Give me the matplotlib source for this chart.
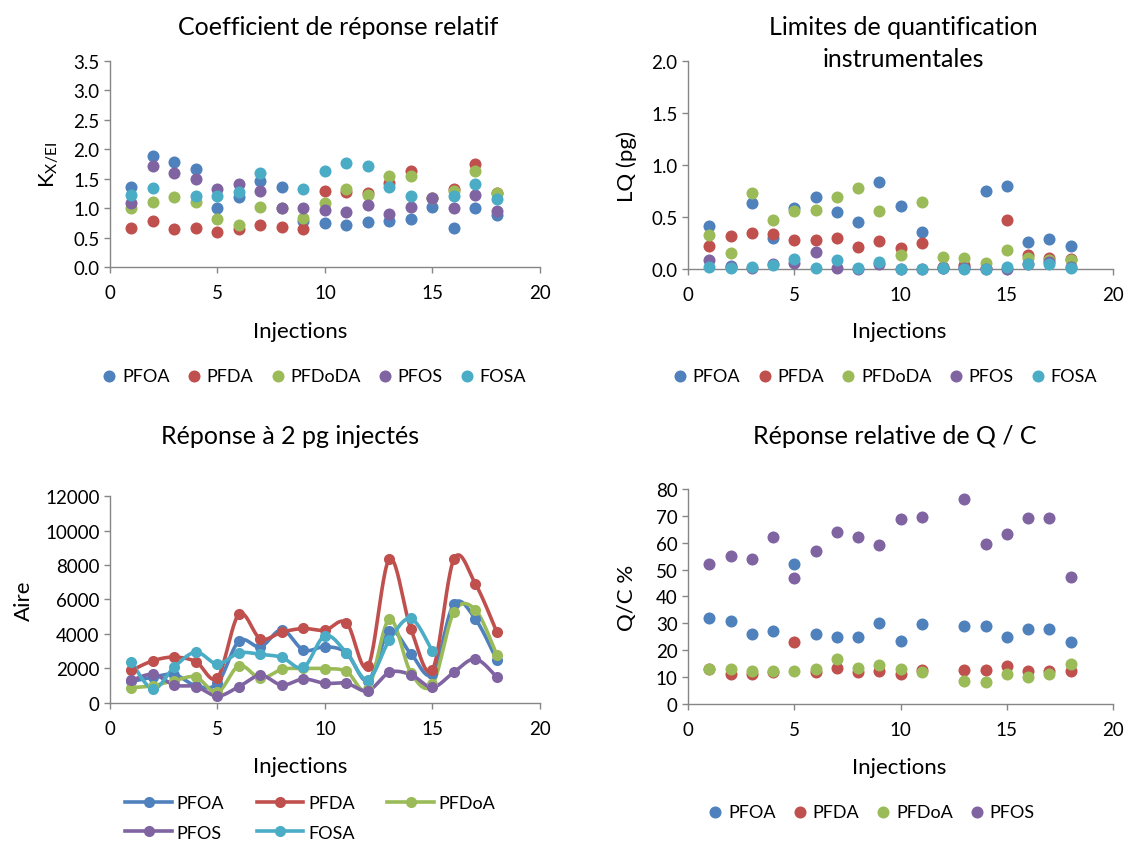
import numpy as np
import matplotlib
matplotlib.use("Agg")
import matplotlib.pyplot as plt
from matplotlib.lines import Line2D

plt.rcParams['font.family'] = ['Lato', 'DejaVu Sans']
plt.rcParams['mathtext.fontset'] = 'custom'
plt.rcParams['mathtext.rm'] = 'Lato'
plt.rcParams['mathtext.it'] = 'Lato'

nan = np.nan
injections = np.arange(1, 19)

# --- Coefficient de réponse relatif ---
k_pfoa = [1.36, 1.89, 1.79, 1.67, 1.01, 1.19, 1.47, 1.36, 0.78, 0.75, 0.72, 0.76, 0.78, 0.82, 1.02, 0.66, 1.00, 0.89]
k_pfda = [0.66, 0.79, 0.64, 0.67, 0.60, 0.64, 0.71, 0.68, 0.65, 1.30, 1.27, 1.26, 1.43, 1.64, 1.17, 1.32, 1.75, 1.26]
k_pfdoda = [1.01, 1.11, 1.19, 1.11, 0.82, 0.72, 1.02, 1.00, 0.83, 1.09, 1.32, 1.22, 1.54, 1.54, 1.17, 1.30, 1.64, 1.26]
k_pfos = [1.08, 1.71, 1.60, 1.50, 1.32, 1.41, 1.30, 1.01, 1.00, 0.97, 0.94, 1.05, 0.90, 1.02, 1.18, 1.00, 1.22, 0.95]
k_fosa = [1.22, 1.34, nan, 1.21, 1.21, 1.27, 1.60, nan, 1.32, 1.64, 1.76, 1.71, 1.36, 1.21, nan, 1.21, 1.41, 1.15]

# --- Limites de quantification instrumentales ---
lq_pfoa = [0.41, 0.03, 0.63, 0.30, 0.59, 0.69, 0.55, 0.45, 0.84, 0.61, 0.36, 0.01, 0.02, 0.75, 0.80, 0.26, 0.29, 0.22]
lq_pfda = [0.22, 0.32, 0.35, 0.34, 0.28, 0.28, 0.30, 0.21, 0.27, 0.20, 0.25, 0.02, 0.04, 0.01, 0.47, 0.13, 0.11, 0.10]
lq_pfdoda = [0.33, 0.15, 0.73, 0.47, 0.56, 0.57, 0.69, 0.78, 0.56, 0.13, 0.64, 0.12, 0.11, 0.06, 0.18, 0.11, 0.09, 0.09]
lq_pfos = [0.09, 0.02, 0.01, 0.05, 0.06, 0.16, 0.01, 0.00, 0.05, 0.00, 0.00, 0.01, 0.01, 0.00, 0.00, 0.05, 0.07, 0.02]
lq_fosa = [0.02, 0.01, 0.02, 0.04, 0.10, 0.01, 0.09, 0.01, 0.07, 0.00, 0.00, 0.01, 0.00, 0.00, 0.02, 0.05, 0.05, 0.01]

# --- Réponse à 2 pg injectés (aire) ---
a_pfoa = [1250, 1500, 1650, 1000, 1140, 3590, 3260, 4240, 3070, 3260, 2910, 1300, 4170, 2850, 1700, 5750, 4860, 2470]
a_pfda = [1890, 2450, 2660, 2390, 1470, 5150, 3720, 4110, 4320, 4220, 4650, 2120, 8350, 4280, 1930, 8350, 6900, 4090]
a_pfdoa = [890, 1000, 1300, 1500, 620, 2160, 1430, 1950, 2000, 1990, 1830, 810, 4860, 1740, 1080, 5280, 5400, 2760]
a_pfos = [1310, 1660, 1040, 950, 400, 950, 1600, 1040, 1390, 1140, 1140, 710, 1770, 1640, 910, 1790, 2550, 1490]
a_fosa = [2370, 810, 2100, 2950, 2260, 2900, 2820, 2640, 2060, 3900, 2910, 1350, 3650, 4900, 2990, nan, nan, nan]

# --- Réponse relative de Q / C ---
qc_pfoa = [32, 31, 26, 27, 52, 26, 25, 25, 30, 23.4, 29.7, nan, 29, 29, 25, 28, 28, 23]
qc_pfda = [13, 11, 11, 12, 23, 12, 13.3, 12, 12.2, 11, 12.7, nan, 12.5, 12.8, 14.3, 12.2, 12.3, 12.2]
qc_pfdoa = [13, 13, 12.2, 12.2, 12.1, 13.2, 16.6, 13.5, 14.4, 12.9, 11.8, nan, 8.7, 8.2, 11, 10, 11, 14.8]
qc_pfos = [52, 55.2, 54, 62.2, 47, 57.1, 64.1, 62.2, 59.1, 68.8, 69.6, nan, 76.1, 59.5, 63.1, 69.2, 69.2, 47.1]

BLUE, RED, GREEN, PURPLE, CYAN = '#4F81BD', '#C0504D', '#9BBB59', '#8064A2', '#4BACC6'
AXIS_GREY = '#868686'

TITLE_FS = 18
LABEL_FS = 16
TICK_FS = 13.5
LEG_FS = 13


def style_axes(ax, ymax, ystep):
    for side in ('top', 'right'):
        ax.spines[side].set_visible(False)
    for side in ('left', 'bottom'):
        ax.spines[side].set_color(AXIS_GREY)
        ax.spines[side].set_linewidth(1.0)
    ax.set_xlim(0, 20)
    ax.set_ylim(0, ymax)
    ax.set_xticks(range(0, 21, 5))
    ax.set_yticks(np.arange(0, ymax + ystep / 2, ystep))
    ax.tick_params(axis='both', colors=AXIS_GREY, labelcolor='black', labelsize=TICK_FS,
                   length=4, width=1.0, direction='out')
    ax.tick_params(axis='x', pad=8)


def smooth(x, y, n=24):
    # Catmull-Rom curve through the points, like Excel's smoothed line
    x = np.asarray(x, float)
    y = np.asarray(y, float)
    xs, ys = [], []
    m = len(x)
    for i in range(m - 1):
        i0, i3 = max(i - 1, 0), min(i + 2, m - 1)
        t = np.linspace(0, 1, n, endpoint=(i == m - 2))
        for p, out in ((x, xs), (y, ys)):
            p0, p1, p2, p3 = p[i0], p[i], p[i + 1], p[i3]
            out.append(0.5 * ((2 * p1) + (-p0 + p2) * t + (2 * p0 - 5 * p1 + 4 * p2 - p3) * t ** 2
                              + (-p0 + 3 * p1 - 3 * p2 + p3) * t ** 3))
    return np.concatenate(xs), np.concatenate(ys)


fig = plt.figure(figsize=(11.28, 8.45), dpi=100)

ax1 = fig.add_axes([0.0975, 0.6828, 0.3812, 0.2438])
ax2 = fig.add_axes([0.610, 0.6805, 0.3767, 0.2461])
ax3 = fig.add_axes([0.0975, 0.1669, 0.3812, 0.2449])
ax4 = fig.add_axes([0.610, 0.1657, 0.3767, 0.2544])

MS = 75
scatter_leg = dict(loc='center', frameon=False, fontsize=LEG_FS, handlelength=0.7,
                   handletextpad=0.35, columnspacing=1.0, scatterpoints=1)

# Panel 1
series1 = [('PFOA', k_pfoa, BLUE), ('PFDA', k_pfda, RED), ('PFDoDA', k_pfdoda, GREEN),
           ('PFOS', k_pfos, PURPLE), ('FOSA', k_fosa, CYAN)]
for name, vals, col in series1:
    ax1.scatter(injections, vals, s=MS, color=col, label=name, linewidths=0, zorder=3, clip_on=False)
style_axes(ax1, 3.5, 0.5)
ax1.yaxis.set_major_formatter(matplotlib.ticker.FormatStrFormatter('%.1f'))
ax1.set_ylabel(r'K$_{\mathrm{X/EI}}$', fontsize=LABEL_FS)
ax1.yaxis.set_label_coords(-0.115, 0.5)
fig.text(0.300, 0.967, 'Coefficient de réponse relatif', ha='center', va='center', fontsize=TITLE_FS)
fig.text(0.266, 0.607, 'Injections', ha='center', va='center', fontsize=LABEL_FS)
fig.legend(handles=ax1.collections, labels=[s[0] for s in series1],
           bbox_to_anchor=(0.279, 0.554), ncol=5, **scatter_leg)

# Panel 2
series2 = [('PFOA', lq_pfoa, BLUE), ('PFDA', lq_pfda, RED), ('PFDoDA', lq_pfdoda, GREEN),
           ('PFOS', lq_pfos, PURPLE), ('FOSA', lq_fosa, CYAN)]
for name, vals, col in series2:
    ax2.scatter(injections, vals, s=MS, color=col, label=name, linewidths=0, zorder=3, clip_on=False)
style_axes(ax2, 2.0, 0.5)
ax2.yaxis.set_major_formatter(matplotlib.ticker.FormatStrFormatter('%.1f'))
ax2.set_ylabel('LQ (pg)', fontsize=LABEL_FS)
ax2.yaxis.set_label_coords(-0.12, 0.5)
fig.text(0.801, 0.967, 'Limites de quantification', ha='center', va='center', fontsize=TITLE_FS)
fig.text(0.801, 0.929, 'instrumentales', ha='center', va='center', fontsize=TITLE_FS)
fig.text(0.797, 0.607, 'Injections', ha='center', va='center', fontsize=LABEL_FS)
fig.legend(handles=ax2.collections, labels=[s[0] for s in series2],
           bbox_to_anchor=(0.785, 0.554), ncol=5, **scatter_leg)

# Panel 3
series3 = [('PFOA', a_pfoa, BLUE), ('PFDA', a_pfda, RED), ('PFDoA', a_pfdoa, GREEN),
           ('PFOS', a_pfos, PURPLE), ('FOSA', a_fosa, CYAN)]
handles3 = []
for name, vals, col in series3:
    vals = np.asarray(vals, float)
    ok = ~np.isnan(vals)
    sx, sy = smooth(injections[ok], vals[ok])
    ax3.plot(sx, sy, color=col, lw=2.6, zorder=2, solid_capstyle='round')
    ax3.plot(injections[ok], vals[ok], 'o', color=col, ms=8, mew=0, zorder=3)
    handles3.append(Line2D([], [], color=col, lw=2.6, marker='o', ms=8, mew=0))
style_axes(ax3, 12000, 2000)
ax3.set_ylabel('Aire', fontsize=LABEL_FS)
ax3.yaxis.set_label_coords(-0.177, 0.5)
fig.text(0.257, 0.483, 'Réponse à 2 pg injectés', ha='center', va='center', fontsize=TITLE_FS)
fig.text(0.266, 0.092, 'Injections', ha='center', va='center', fontsize=LABEL_FS)
# legend filled row by row: PFOA PFDA PFDoA / PFOS FOSA
order = [0, 3, 1, 4, 2]
fig.legend(handles=[handles3[i] for i in order], labels=[series3[i][0] for i in order],
           loc='center', bbox_to_anchor=(0.275, 0.031), ncol=3, frameon=False, fontsize=LEG_FS,
           handlelength=2.6, handletextpad=0.25, columnspacing=1.8, labelspacing=0.75)

# Panel 4
series4 = [('PFOA', qc_pfoa, BLUE), ('PFDA', qc_pfda, RED), ('PFDoA', qc_pfdoa, GREEN),
           ('PFOS', qc_pfos, PURPLE)]
for name, vals, col in series4:
    ax4.scatter(injections, vals, s=MS, color=col, label=name, linewidths=0, zorder=3, clip_on=False)
style_axes(ax4, 80, 10)
ax4.set_ylabel('Q/C %', fontsize=LABEL_FS)
ax4.yaxis.set_label_coords(-0.12, 0.5)
fig.text(0.793, 0.483, 'Réponse relative de Q / C', ha='center', va='center', fontsize=TITLE_FS)
fig.text(0.797, 0.091, 'Injections', ha='center', va='center', fontsize=LABEL_FS)
fig.legend(handles=ax4.collections, labels=[s[0] for s in series4],
           bbox_to_anchor=(0.773, 0.038), ncol=4, **scatter_leg)

fig.savefig('out.png', dpi=100, facecolor='white')
